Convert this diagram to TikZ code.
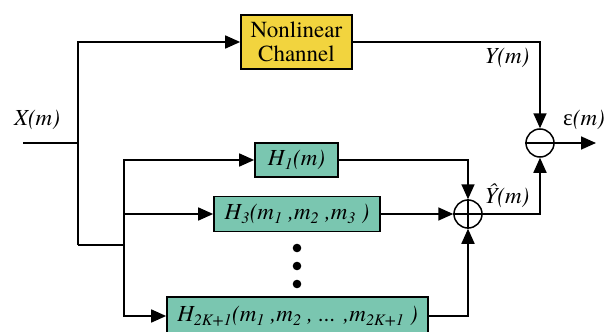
\documentclass[tikz,border=0pt]{standalone}
\usepackage{fontspec}
\setmainfont{texgyretermes}[Extension=.otf, UprightFont=*-regular, ItalicFont=*-italic,
  BoldFont=*-bold, BoldItalicFont=*-bolditalic]
\newfontfamily\greekfont{Liberation Serif}
\usetikzlibrary{arrows.meta}
\definecolor{chanyellow}{RGB}{242,212,62}
\definecolor{filtgreen}{RGB}{122,198,176}
\tikzset{
  block/.style={draw, line width=1.7pt, fill=filtgreen, inner sep=0pt,
    font=\rmfamily\fontsize{23}{24}\selectfont\itshape},
  junction/.style={draw, circle, line width=1.5pt, minimum size=28pt, inner sep=0pt},
  wire/.style={line width=1.7pt},
  sig/.style={wire, -{Triangle[length=15pt,width=13pt]}},
  lbl/.style={font=\rmfamily\fontsize{23}{24}\selectfont\itshape, inner sep=0pt}
}
\begin{document}
\begin{tikzpicture}[x=1pt,y=-1pt]
  \useasboundingbox (0,0) rectangle (611,332);
  \clip (0,0) rectangle (611,332);
  % blocks
  \node[block, fill=chanyellow, align=center, minimum width=111pt, minimum height=54pt,
    font=\rmfamily\fontsize{23}{24}\selectfont] (chan) at (296.5,42) {Nonlinear\\Channel};
  \node[block, minimum width=83pt, minimum height=34pt] (h1) at (296.5,160)
    {H\textsubscript{1}(m)};
  \node[block, minimum width=166pt, minimum height=35pt] (h3) at (297,214)
    {H\textsubscript{3}(m\textsubscript{1} ,m\textsubscript{2} ,m\textsubscript{3} )};
  \node[block, minimum width=261pt, minimum height=38pt] (hk) at (297.5,316)
    {H\textsubscript{2K+1}(m\textsubscript{1} ,m\textsubscript{2} , ... ,m\textsubscript{2K+1} )};
  \node[junction] (add) at (468,214) {};
  \node[junction] (sub) at (540,143) {};
  % branch points
  \coordinate (xin) at (23,143);
  \coordinate (xsplit) at (78,143);
  \coordinate (xbot) at (78,245);
  \coordinate (fan) at (124,245);
  \coordinate (out) at (596,143);
  % signs
  \draw[wire] (sub.west) -- (sub.east);
  \draw[wire] (add.west) -- (add.east);
  \draw[wire] (add.north) -- (add.south);
  % wires
  \draw[wire] (xin) -- (xsplit);
  \draw[sig] (xbot) |- (chan);
  \draw[wire] (xbot) -- (fan);
  \draw[sig] (fan) |- (h1);
  \draw[sig] (fan) |- (h3);
  \draw[sig] (fan) |- (hk);
  \draw[sig] (chan) -| (sub);
  \draw[sig] (h1) -| (add);
  \draw[sig] (h3) -- (add);
  \draw[sig] (hk) -| (add);
  \draw[sig] (add) -| (sub);
  \draw[sig] (sub) -- (out);
  % dots
  \foreach \y in {248,266,284}
    \fill (297,\y) circle (4.3pt);
  % labels
  \node[lbl] (xlbl) at (37,120) {X(m)};
  \node[lbl] (ylbl) at (507,58) {Y(m)};
  \node[lbl] (elbl) at (584,120) {\greekfont\upshape ε\rmfamily\itshape(m)};
  \node[lbl] (yhat) at (507,196) {Ŷ(m)};
\end{tikzpicture}
\end{document}
